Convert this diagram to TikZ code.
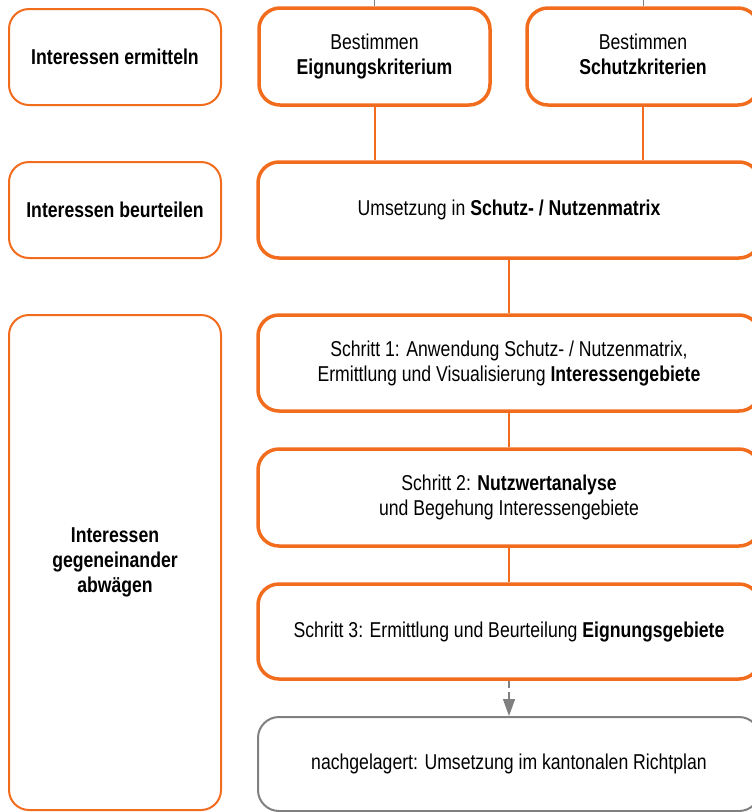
\documentclass[tikz,border=0pt]{standalone}
\usepackage{fontspec}
\setmainfont{Liberation Sans}[FakeStretch=0.82]
\usetikzlibrary{arrows.meta}
\definecolor{orng}{RGB}{242,108,30}
\definecolor{gry}{RGB}{128,128,128}
\tikzset{
  txt/.style={font=\fontsize{21.5}{25}\selectfont, align=center, text=black},
  leftbox/.style={txt, draw=orng, line width=2pt, rounded corners=20pt, font=\fontsize{21.5}{25}\selectfont\bfseries},
  mainbox/.style={txt, draw=orng, line width=3.5pt, rounded corners=21pt},
  laterbox/.style={txt, draw=gry, line width=2pt, rounded corners=21pt},
  link/.style={draw=orng, line width=2pt},
  tick/.style={draw=gry, line width=0.8pt},
  dasharrow/.style={draw=gry, line width=1.5pt, dash pattern=on 7pt off 4pt, -{Triangle[length=17pt,width=12pt]}}
}
\begin{document}
\begin{tikzpicture}[x=1pt, y=-1pt]
\path[use as bounding box, clip] (0,0) rectangle (752,812);
% left column
\node[leftbox, minimum width=212pt, minimum height=96pt] (L1) at (115,57) {Interessen ermitteln};
\node[leftbox, minimum width=212pt, minimum height=96pt] (L2) at (115,210) {Interessen beurteilen};
\node[leftbox, minimum width=212pt, minimum height=495pt] (L3) at (115,562.5) {Interessen\\gegeneinander\\abwägen};
% right column
\node[mainbox, minimum width=231pt, minimum height=97pt] (A) at (374.5,56.5) {Bestimmen\\\textbf{Eignungskriterium}};
\node[mainbox, minimum width=232pt, minimum height=97pt] (B) at (643,56.5) {Bestimmen\\\textbf{Schutzkriterien}\vphantom{g}};
\node[mainbox, minimum width=502pt, minimum height=96pt] (C) at (509,210) {Umsetzung in \textbf{Schutz- / Nutzenmatrix}};
\node[mainbox, minimum width=502pt, minimum height=96pt] (D) at (509,363) {Schritt 1: Anwendung Schutz- / Nutzenmatrix,\\Ermittlung und Visualisierung \textbf{Interessengebiete}};
\node[mainbox, minimum width=502pt, minimum height=97pt] (E) at (509,497.5) {Schritt 2: \textbf{Nutzwertanalyse}\\und Begehung Interessengebiete};
\node[mainbox, minimum width=502pt, minimum height=95pt] (F) at (509,631.5) {Schritt 3: Ermittlung und Beurteilung \textbf{Eignungsgebiete}};
\node[laterbox, minimum width=502pt, minimum height=94pt] (G) at (509,764) {nachgelagert: Umsetzung im kantonalen Richtplan};
% top ticks
\coordinate (ta) at (374.5,0);
\coordinate (tb) at (643,0);
\draw[tick] (ta) -- (A.north);
\draw[tick] (tb) -- (B.north);
% connectors
\draw[link] (A.south) -- (A.south |- C.north);
\draw[link] (B.south) -- (B.south |- C.north);
\draw[link] (C.south) -- (D.north);
\draw[link] (D.south) -- (E.north);
\draw[link] (E.south) -- (F.north);
\draw[dasharrow] (F.south) -- (G.north);
\end{tikzpicture}
\end{document}
